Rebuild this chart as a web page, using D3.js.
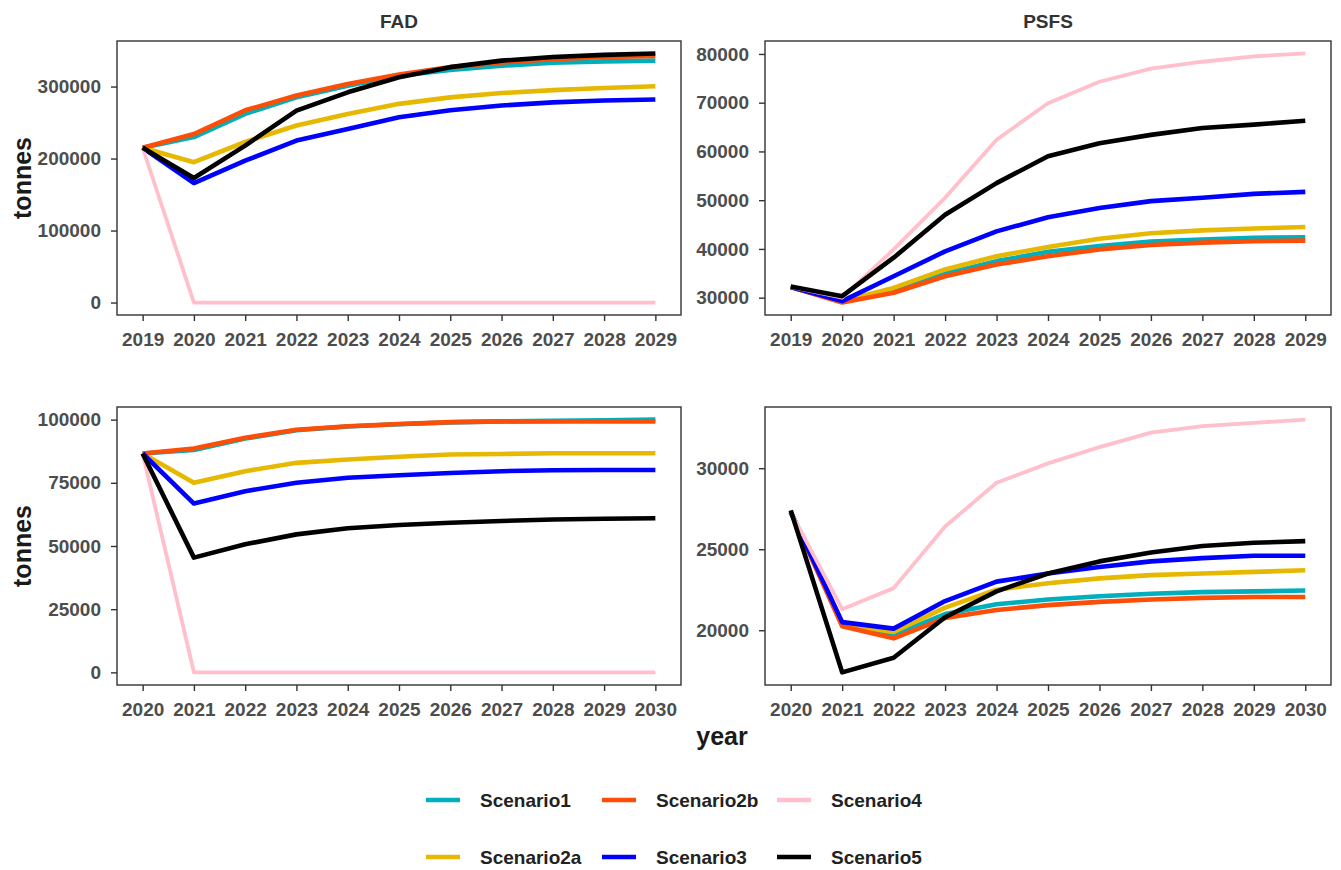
<!DOCTYPE html>
<html>
<head>
<meta charset="utf-8">
<script src="https://cdn.jsdelivr.net/npm/d3@7/dist/d3.min.js"></script>
<style>
  html, body { margin: 0; padding: 0; background: #ffffff; }
  svg { display: block; font-family: "Liberation Sans", Arial, sans-serif; }
</style>
</head>
<body>
<svg id="chart" width="1341" height="870"></svg>
<script>
// Scenario names (drawing / legend order) and their colours
const scenarios = ["Scenario1", "Scenario2a", "Scenario2b", "Scenario3", "Scenario4", "Scenario5"];
const scenarioColors = ["#00AFBB", "#E7B800", "#FC4E07", "#0000FF", "#FFC0CB", "#000000"];

// Projection years
const yearsUpper = [2019, 2020, 2021, 2022, 2023, 2024, 2025, 2026, 2027, 2028, 2029];
const yearsLower = [2020, 2021, 2022, 2023, 2024, 2025, 2026, 2027, 2028, 2029, 2030];

// Y tick labels per panel
const ticksFadUpper = [0, 100000, 200000, 300000];
const ticksPsfsUpper = [30000, 40000, 50000, 60000, 70000, 80000];
const ticksFadLower = [0, 25000, 50000, 75000, 100000];
const ticksPsfsLower = [20000, 25000, 30000];

// Catch (tonnes) by scenario, FAD fishery, 2019-2029
const fadUpper = {
  Scenario1:  [215000, 229800, 262000, 285000, 301000, 315000, 323000, 329000, 333000, 335000, 336000],
  Scenario2a: [215000, 195000, 223000, 246000, 262000, 276000, 285000, 291000, 295000, 298000, 300500],
  Scenario2b: [215000, 234000, 267000, 287500, 303700, 316700, 327000, 333600, 338000, 341000, 342500],
  Scenario3:  [215000, 166000, 197000, 225000, 241000, 257500, 267000, 273700, 278000, 280600, 282000],
  Scenario4:  [215000, 0, 0, 0, 0, 0, 0, 0, 0, 0, 0],
  Scenario5:  [215000, 173000, 218000, 266700, 292000, 313000, 327000, 336000, 341000, 344000, 346000]
};

// Catch (tonnes) by scenario, PSFS fishery, 2019-2029
const psfsUpper = {
  Scenario1:  [32200, 29300, 31400, 34900, 37500, 39400, 40600, 41500, 41900, 42300, 42400],
  Scenario2a: [32200, 29300, 32000, 35800, 38500, 40400, 42100, 43200, 43800, 44200, 44500],
  Scenario2b: [32200, 29000, 31000, 34400, 36800, 38500, 39900, 40800, 41300, 41600, 41700],
  Scenario3:  [32200, 29300, 34400, 39500, 43600, 46500, 48400, 49800, 50500, 51300, 51700],
  Scenario4:  [32200, 30000, 39900, 50500, 62400, 69900, 74300, 77000, 78400, 79500, 80100],
  Scenario5:  [32300, 30300, 38200, 47000, 53500, 59000, 61700, 63400, 64800, 65500, 66300]
};

// Catch (tonnes) by scenario, FAD fishery, 2020-2030
const fadLower = {
  Scenario1:  [86600, 88000, 92500, 95800, 97300, 98200, 98900, 99300, 99500, 99700, 100000],
  Scenario2a: [86600, 75000, 79600, 82900, 84200, 85300, 86200, 86400, 86700, 86700, 86700],
  Scenario2b: [86600, 88600, 92800, 96000, 97400, 98300, 99000, 99300, 99300, 99300, 99300],
  Scenario3:  [86600, 66800, 71700, 75000, 77000, 78000, 78900, 79600, 80000, 80100, 80100],
  Scenario4:  [86600, 0, 0, 0, 0, 0, 0, 0, 0, 0, 0],
  Scenario5:  [86600, 45400, 50700, 54600, 57000, 58300, 59200, 59900, 60500, 60800, 61000]
};

// Catch (tonnes) by scenario, PSFS fishery, 2020-2030
const psfsLower = {
  Scenario1:  [27300, 20350, 19700, 21000, 21600, 21900, 22100, 22250, 22350, 22400, 22450],
  Scenario2a: [27300, 20350, 19900, 21400, 22500, 22900, 23200, 23400, 23500, 23600, 23700],
  Scenario2b: [27300, 20250, 19500, 20750, 21250, 21550, 21750, 21900, 22000, 22050, 22050],
  Scenario3:  [27300, 20500, 20100, 21800, 23000, 23500, 23900, 24250, 24450, 24600, 24600],
  Scenario4:  [27300, 21300, 22600, 26400, 29100, 30300, 31300, 32200, 32600, 32800, 33000],
  Scenario5:  [27400, 17400, 18300, 20800, 22400, 23500, 24250, 24800, 25200, 25400, 25500]
};

const svg = d3.select("#chart");
const color = d3.scaleOrdinal().domain(scenarios).range(scenarioColors);

const tickFont = "19px";
const tickColor = "#4D4D4D";

// Panel boxes
const panels = [
  { title: "FAD",  years: yearsUpper, data: fadUpper,  ticks: ticksFadUpper,  x0: 117, x1: 681,  y0: 41,  y1: 315, ylab: true },
  { title: "PSFS", years: yearsUpper, data: psfsUpper, ticks: ticksPsfsUpper, x0: 765, x1: 1331, y0: 41,  y1: 315, ylab: false },
  { title: null,   years: yearsLower, data: fadLower,  ticks: ticksFadLower,  x0: 117, x1: 681,  y0: 407, y1: 685, ylab: true },
  { title: null,   years: yearsLower, data: psfsLower, ticks: ticksPsfsLower, x0: 765, x1: 1331, y0: 407, y1: 685, ylab: false }
];

// Extent with 5% padding on each side
function padded(ext) {
  const pad = (ext[1] - ext[0]) * 0.05;
  return [ext[0] - pad, ext[1] + pad];
}

panels.forEach(p => {
  const allVals = scenarios.flatMap(s => p.data[s]);
  const x = d3.scaleLinear().domain(padded(d3.extent(p.years))).range([p.x0, p.x1]);
  const y = d3.scaleLinear().domain(padded(d3.extent(allVals))).range([p.y1, p.y0]);

  const g = svg.append("g");

  // panel background
  g.append("rect")
    .attr("x", p.x0).attr("y", p.y0)
    .attr("width", p.x1 - p.x0).attr("height", p.y1 - p.y0)
    .attr("fill", "#ffffff");

  // series lines
  const line = d3.line()
    .x((d, i) => x(p.years[i]))
    .y(d => y(d));

  scenarios.forEach(s => {
    g.append("path")
      .datum(p.data[s])
      .attr("d", line)
      .attr("fill", "none")
      .attr("stroke", color(s))
      .attr("stroke-width", s === "Scenario4" ? 3.8 : 4.6)
      .attr("stroke-linejoin", "round")
      .attr("stroke-linecap", "butt");
  });

  // panel border
  g.append("rect")
    .attr("x", p.x0).attr("y", p.y0)
    .attr("width", p.x1 - p.x0).attr("height", p.y1 - p.y0)
    .attr("fill", "none")
    .attr("stroke", "#333333")
    .attr("stroke-width", 1.4);

  // x axis
  const xAxis = g.append("g")
    .attr("transform", `translate(0,${p.y1})`)
    .call(d3.axisBottom(x).tickValues(p.years).tickFormat(d3.format("d")).tickSize(6).tickPadding(11.5));
  xAxis.select(".domain").remove();
  xAxis.selectAll(".tick line").attr("stroke", "#333333").attr("stroke-width", 1.4);
  xAxis.selectAll(".tick text")
    .attr("fill", tickColor).style("font-size", tickFont).style("font-weight", "bold")
    .style("font-family", "'Liberation Sans', Arial, sans-serif");

  // y axis
  const yAxis = g.append("g")
    .attr("transform", `translate(${p.x0},0)`)
    .call(d3.axisLeft(y).tickValues(p.ticks).tickFormat(d3.format("d")).tickSize(6).tickPadding(10));
  yAxis.select(".domain").remove();
  yAxis.selectAll(".tick line").attr("stroke", "#333333").attr("stroke-width", 1.4);
  yAxis.selectAll(".tick text")
    .attr("fill", tickColor).style("font-size", tickFont).style("font-weight", "bold")
    .style("font-family", "'Liberation Sans', Arial, sans-serif");

  // strip title
  if (p.title) {
    svg.append("text")
      .attr("x", (p.x0 + p.x1) / 2)
      .attr("y", 28)
      .attr("text-anchor", "middle")
      .attr("fill", "#333333")
      .style("font-size", "19px")
      .style("font-weight", "bold")
      .text(p.title);
  }

  // y axis title
  if (p.ylab) {
    svg.append("text")
      .attr("transform", `translate(31,${(p.y0 + p.y1) / 2}) rotate(-90)`)
      .attr("text-anchor", "middle")
      .attr("fill", "#1A1A1A")
      .style("font-size", "25px")
      .style("font-weight", "bold")
      .text("tonnes");
  }
});

// x axis title
svg.append("text")
  .attr("x", 722)
  .attr("y", 745)
  .attr("text-anchor", "middle")
  .attr("fill", "#1A1A1A")
  .style("font-size", "25px")
  .style("font-weight", "bold")
  .text("year");

// legend: 2 rows, filled column by column
const legendCols = [426, 602, 777];
const legendRows = [800, 857];
const legend = svg.append("g");
scenarios.forEach((s, i) => {
  const col = Math.floor(i / 2);
  const row = i % 2;
  const lx = legendCols[col];
  const ly = legendRows[row];
  legend.append("line")
    .attr("x1", lx).attr("x2", lx + 34)
    .attr("y1", ly).attr("y2", ly)
    .attr("stroke", color(s))
    .attr("stroke-width", 4.6);
  legend.append("text")
    .attr("x", lx + 54)
    .attr("y", ly)
    .attr("dy", "0.35em")
    .attr("fill", "#222222")
    .style("font-size", "19px")
    .style("font-weight", "bold")
    .text(s);
});
</script>
</body>
</html>
